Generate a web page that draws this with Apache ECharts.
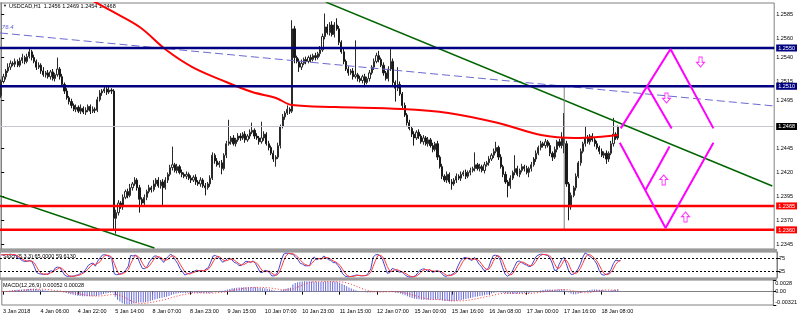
<!DOCTYPE html>
<html><head><meta charset="utf-8">
<script src="https://cdn.jsdelivr.net/npm/echarts@6/dist/echarts.min.js"></script>
<style>html,body{margin:0;padding:0;background:#fff}#c{width:800px;height:319px}</style>
</head><body><div id="c"></div>
<script>
// ---------------- data (prices in pips above BASE) ----------------
const BASE = 1.2300, PIP = 0.0001;
const symbolName = 'USDCAD,H1';
const timeLabels = ['3 Jan 2018','4 Jan 06:00','4 Jan 22:00','5 Jan 14:00','8 Jan 07:00','8 Jan 23:00','9 Jan 15:00','10 Jan 07:00','10 Jan 23:00','11 Jan 15:00','12 Jan 07:00','15 Jan 00:00','15 Jan 16:00','16 Jan 08:00','17 Jan 00:00','17 Jan 16:00','18 Jan 08:00'];
const barsPerLabel = 16;
const totalSlots = 330;
const firstOpenPips = 200;
const closePips = [
215,220,226,230,234,233,236,232,237,240,
236,241,246,240,236,230,232,226,222,224,
220,225,218,222,228,220,212,205,198,194,
190,186,188,184,187,183,185,189,184,186,
185,196,203,205,207,204,206,205,72,78,
88,84,94,100,96,104,108,112,104,92,
88,94,100,104,102,108,112,106,110,104,
112,118,125,128,122,126,120,118,116,118,
114,112,115,110,108,112,106,104,108,114,
138,132,128,130,124,138,150,152,156,150,
154,158,156,160,154,158,162,164,158,156,
152,156,160,150,146,140,134,136,148,168,
178,182,186,184,270,240,236,230,234,238,
236,240,238,242,240,244,248,262,272,266,
274,264,274,270,256,246,236,228,224,226,
220,222,218,216,220,214,218,224,230,236,
242,238,232,224,218,228,236,214,208,212,
202,190,180,172,166,160,156,162,158,152,
156,150,154,148,144,150,136,126,116,112,
118,110,108,112,116,114,118,120,116,120,
122,124,128,124,126,122,128,130,134,138,
142,146,136,126,118,110,106,114,120,124,
118,122,126,124,120,124,128,134,140,146,
150,148,152,148,140,136,144,152,148,156,
150,108,84,96,104,116,130,142,150,156,
152,158,154,150,146,142,138,140,134,140,
150,160,156,168];
const upperWickPips = [
2,3,2,4,3,2,3,2,3,4, 2,3,5,2,3,2,3,2,4,2, 3,2,3,2,12,2,3,2,3,2, 3,2,3,2,4,2,3,2,2,3,
2,3,3,2,3,2,4,2,2,3, 3,2,3,2,3,4,2,3,2,3, 2,3,2,3,2,4,2,3,2,3, 3,2,3,19,2,3,2,3,2,3,
2,3,2,3,2,3,2,3,2,3, 3,2,3,2,3,2,3,23,2,3, 2,3,3,2,3,2,3,8,2,3, 2,17,3,2,3,2,3,2,3,2,
3,2,4,2,9,3,2,3,4,2, 3,2,3,2,3,2,4,3,14,3, 3,4,3,7,3,2,3,2,3,2, 3,36,2,3,2,3,2,3,2,3,
3,5,2,3,2,3,15,3,2,18, 3,2,3,2,3,2,3,2,3,2, 3,2,3,2,3,2,3,2,3,2, 3,2,3,2,3,2,3,2,3,2,
3,2,13,2,3,2,3,2,3,2, 3,6,2,3,2,3,2,3,2,14, 3,2,3,2,3,2,3,2,3,2, 3,2,3,2,3,2,3,2,3,6,
26,3,2,3,2,3,2,3,2,12, 3,2,3,2,3,2,3,2,3,2, 3,17,2,1];
const lowerWickPips = [
2,2,3,2,3,2,3,2,2,3, 3,2,2,3,2,3,2,3,2,3, 2,3,2,3,2,3,2,3,2,3, 3,2,3,2,3,2,3,2,3,2,
3,2,2,3,2,3,2,3,12,16, 3,2,3,2,3,2,3,2,3,14, 3,2,3,2,3,2,3,2,3,18, 2,3,2,3,2,3,2,3,2,3,
2,3,2,3,2,3,2,8,2,3, 2,3,2,3,6,2,3,2,3,2, 3,2,3,2,3,2,3,2,3,2, 3,2,3,2,3,2,3,8,2,3,
2,3,2,3,2,6,2,5,3,2, 3,2,3,2,3,2,3,2,3,2, 3,2,3,2,3,2,3,2,3,2, 3,2,3,2,3,5,2,3,2,3,
2,3,2,3,2,3,2,3,14,3, 2,3,2,3,2,3,8,2,3,2, 3,2,3,2,3,2,3,2,3,2, 3,2,6,2,3,2,3,2,3,2,
3,2,3,2,3,2,3,2,3,2, 3,2,3,2,3,2,12,3,2,3, 2,3,2,3,2,5,3,2,3,2, 3,2,3,2,3,4,2,3,2,3,
10,3,14,3,2,3,2,3,2,3, 2,3,2,3,2,3,2,3,5,3, 2,3,2,2];
const priceTicks = [1.2585,1.2560,1.2540,1.2515,1.2495,1.2445,1.2420,1.2395,1.2370,1.2345];
const resistanceLevels = [1.2550, 1.2510];
const supportLevels = [1.2385, 1.2360];
const maPoints = [[38.6,1.2600],[46.2,1.25897],[59,1.25719],[70.4,1.25479],[81.5,1.25301],[95.9,1.25145],[107,1.2504],[117.1,1.24978],[123.9,1.24904],[142.6,1.24884],[170.7,1.24863],[190.6,1.24821],[211.9,1.24716],[230.1,1.24591],[244.6,1.2456],[254.3,1.2457],[262.9,1.24591]];
const channelUpper = [[138.4,1.2598],[328.7,1.24058]];
const channelLower = [[-0.5,1.23954],[65.3,1.2341]];
const fibLine = [[-0.5,1.25657],[329.5,1.24894]];
const fibText = '76.4';
const eventLine = [[240,1.2510],[240,1.2360]];
const projUpperA = [[264.1,1.2466],[285.3,1.2549],[303.6,1.2466]];
const projUpperB = [[275.6,1.2509],[285.8,1.2466]];
const projLowerA = [[263.7,1.2451],[283.2,1.2362],[303.6,1.2451]];
const projLowerB = [[274.7,1.2402],[284.9,1.2447]];
const arrowsDown = [[298.1,1.25354],[283.6,1.24978]];
const arrowsUp = [[282.4,1.24121],[291.7,1.23734]];
const stochTicks = [100,75,25,0];
const stochLevels = [75,25];
const macdRange = [-0.00321, 0.0028];
const stochTitle = 'Stoch(5,3,3) 65.0000 59.6130';
const macdTitle = 'MACD(12,26,9) 0.00052 0.00028';

// ---------------- build OHLC ----------------
const toPrice = p => Math.round((BASE + p*PIP)*1e5)/1e5;
const N = closePips.length;
const O=[],C=[],H=[],L=[];
let prev = firstOpenPips;
for (let i=0;i<N;i++){
  const o=prev, c=closePips[i];
  O.push(toPrice(o)); C.push(toPrice(c));
  H.push(toPrice(Math.max(o,c)+upperWickPips[i]));
  L.push(toPrice(Math.min(o,c)-lowerWickPips[i]));
  prev=c;
}
const candles = O.map((o,i)=>[o,C[i],L[i],H[i]]);
const lastClose = C[N-1];

// Stochastic(5,3,3)
const num=[],den=[],K=[],D=[];
for (let i=0;i<N;i++){
  const s=Math.max(0,i-4);
  const hh=Math.max(...H.slice(s,i+1)), ll=Math.min(...L.slice(s,i+1));
  num.push(C[i]-ll); den.push(hh-ll);
}
for (let i=0;i<N;i++){
  const s=Math.max(0,i-2);
  let a=0,b=0; for(let j=s;j<=i;j++){a+=num[j];b+=den[j];}
  K.push(b>0?100*a/b:50);
}
for (let i=0;i<N;i++){
  const s=Math.max(0,i-2); let a=0; for(let j=s;j<=i;j++)a+=K[j]; D.push(a/(i-s+1));
}
// MACD(12,26,9)
let e12=C[0], e26=C[0]; const M=[],S=[];
for (let i=0;i<N;i++){ e12+= (2/13)*(C[i]-e12); e26 += (2/27)*(C[i]-e26); M.push(e12-e26); }
for (let i=0;i<N;i++){ const s=Math.max(0,i-8); let a=0; for(let j=s;j<=i;j++)a+=M[j]; S.push(a/(i-s+1)); }

const categories = Array.from({length: totalSlots}, (_, i) => String(i));
const isLabelIdx = idx => idx % barsPerLabel === 0 && idx / barsPerLabel < timeLabels.length;

const FONT = '"Liberation Sans", Arial, sans-serif';
const FS = 5.5;
const near = (a,b)=>Math.abs(a-b)<1e-7;

function seg(data, color, width, type, z){
  return {type:'line', xAxisIndex:1, yAxisIndex:0, data, symbol:'none', silent:true, z:z||3,
    lineStyle:{color, width, type:type||'solid'}, clip:true};
}

const series = [
  {type:'candlestick', xAxisIndex:0, yAxisIndex:0, data:candles, barWidth:'72%',
   itemStyle:{color:'#ffffff', color0:'#1a1a1a', borderColor:'#2a2a2a', borderColor0:'#1a1a1a', borderWidth:1}, z:2},
  seg([[-0.5,lastClose],[totalSlots-0.5,lastClose]], '#c4c8cc', 1),
  {type:'line', xAxisIndex:1, yAxisIndex:0, data:maPoints, smooth:0.35, symbol:'none', lineStyle:{color:'#ff0000', width:2}, z:4},
  seg(fibLine, '#6a6ad0', 1, [8,4]),
  seg(channelUpper, '#006400', 1.5),
  seg(channelLower, '#006400', 1.5),
  seg(eventLine, '#808080', 1),
  ...resistanceLevels.map(v=>seg([[-0.5,v],[totalSlots-0.5,v]], '#000080', 2.5, 'solid', 5)),
  ...supportLevels.map(v=>seg([[-0.5,v],[totalSlots-0.5,v]], '#ff0000', 2.5, 'solid', 5)),
  ...[projUpperA, projUpperB, projLowerA, projLowerB].map(d=>seg(d, '#ff00ff', 2, 'solid', 6)),
  {type:'scatter', xAxisIndex:1, yAxisIndex:0, data:arrowsDown, symbol:'path://M3,0L7,0L7,6L10,6L5,11L0,6L3,6Z', symbolSize:[8,10],
   itemStyle:{color:'#ffffff', borderColor:'#ff00ff', borderWidth:1}, z:7, silent:true},
  {type:'scatter', xAxisIndex:1, yAxisIndex:0, data:arrowsUp, symbol:'path://M5,0L10,5L7,5L7,11L3,11L3,5L0,5Z', symbolSize:[8,10],
   itemStyle:{color:'#ffffff', borderColor:'#ff00ff', borderWidth:1}, z:7, silent:true},
  {type:'scatter', xAxisIndex:1, yAxisIndex:0, data:[[fibLine[0][0]+1, fibLine[0][1]]], symbolSize:1, itemStyle:{color:'rgba(0,0,0,0)'},
   label:{show:true, formatter:fibText, position:[0,-8], color:'#3333cc', fontStyle:'italic', fontSize:6, fontFamily:FONT}, z:7, silent:true},
  {type:'line', xAxisIndex:2, yAxisIndex:1, data:K, symbol:'none', lineStyle:{color:'#4646d2', width:1}, z:3,
   markLine:{silent:true, symbol:'none', label:{show:false}, lineStyle:{color:'#000', width:1, type:[2,2]}, data:stochLevels.map(v=>({yAxis:v}))}},
  {type:'line', xAxisIndex:2, yAxisIndex:1, data:D, symbol:'none', lineStyle:{color:'#ff3c3c', width:1}, z:4},
  {type:'bar', xAxisIndex:3, yAxisIndex:2, data:M, barWidth:1, itemStyle:{color:'#6a6ad8'}, z:3},
  {type:'line', xAxisIndex:3, yAxisIndex:2, data:S, symbol:'none', lineStyle:{color:'#ff3030', width:1, type:[1,2]}, z:4}
];

const hiddenCat = g => ({type:'category', gridIndex:g, data:categories, boundaryGap:true, show:false});
const edgeRich = {t:{padding:[6,0,0,0], fontSize:FS}, b:{padding:[0,0,6,0], fontSize:FS}};
const option = {
  animation:false,
  backgroundColor:'#ffffff',
  textStyle:{fontFamily:FONT},
  grid:[
    {left:0, right:23, top:3, height:246, show:true, borderColor:'#808080', borderWidth:1},
    {left:0, right:23, top:252, height:26, show:true, borderColor:'#808080', borderWidth:1},
    {left:0, right:23, top:280, height:25, show:true, borderColor:'#808080', borderWidth:1}
  ],
  xAxis:[
    hiddenCat(0),
    {type:'value', gridIndex:0, min:-0.5, max:totalSlots-0.5, show:false},
    hiddenCat(1),
    {type:'category', gridIndex:2, data:categories, boundaryGap:true,
     axisLine:{show:true, lineStyle:{color:'#808080'}},
     axisTick:{show:true, interval:isLabelIdx, alignWithLabel:true, length:3, lineStyle:{color:'#000'}},
     axisLabel:{interval:isLabelIdx, formatter:(v,idx)=>timeLabels[idx/barsPerLabel]||'', align:'left', fontSize:FS, color:'#000', margin:3, hideOverlap:false}}
  ],
  yAxis:[
    {type:'value', gridIndex:0, position:'right', min:1.2340, max:1.2597,
     axisLine:{show:true, lineStyle:{color:'#808080'}}, splitLine:{show:false},
     axisTick:{show:true, customValues:priceTicks, length:3, lineStyle:{color:'#000'}},
     axisLabel:{customValues:priceTicks.concat(resistanceLevels, supportLevels, [lastClose]), margin:2, fontSize:FS, color:'#000', hideOverlap:false,
       formatter:v=>{const s=v.toFixed(4);
         if(resistanceLevels.some(x=>near(x,v)))return '{r|'+s+'}';
         if(supportLevels.some(x=>near(x,v)))return '{s|'+s+'}';
         if(near(v,lastClose))return '{c|'+s+'}';
         return s;},
       rich:{r:{backgroundColor:'#000080',color:'#fff',fontSize:FS,padding:[1,2,0,2]},
             s:{backgroundColor:'#ff0000',color:'#fff',fontSize:FS,padding:[1,2,0,2]},
             c:{backgroundColor:'#000000',color:'#fff',fontSize:FS,padding:[1,2,0,2]}}}},
    {type:'value', gridIndex:1, position:'right', min:0, max:100,
     axisLine:{show:true, lineStyle:{color:'#808080'}}, splitLine:{show:false},
     axisTick:{show:true, customValues:stochTicks, length:3, lineStyle:{color:'#000'}},
     axisLabel:{customValues:stochTicks, margin:2, fontSize:FS, color:'#000', hideOverlap:false,
       formatter:v=>v===100?'{t|100}':(v===0?'{b|0}':String(v)), rich:edgeRich}},
    {type:'value', gridIndex:2, position:'right', min:macdRange[0], max:macdRange[1],
     axisLine:{show:true, lineStyle:{color:'#808080'}}, splitLine:{show:false},
     axisTick:{show:true, customValues:[macdRange[1],0,macdRange[0]], length:3, lineStyle:{color:'#000'}},
     axisLabel:{customValues:[macdRange[1],0,macdRange[0]], margin:2, fontSize:FS, color:'#000', hideOverlap:false,
       formatter:v=>v===0?'0.00':(v>0?'{t|'+v+'}':'{b|'+v+'}'), rich:edgeRich}}
  ],
  graphic:[
    {type:'rect', shape:{x:0,y:249,width:777,height:3}, style:{fill:'#9a9a9a'}, silent:true},
    {type:'rect', shape:{x:0,y:278,width:777,height:2}, style:{fill:'#9a9a9a'}, silent:true},
    {type:'text', x:3, y:4, style:{text:'▼', fontSize:4, fill:'#000'}, silent:true},
    {type:'text', x:9, y:3, style:{text:symbolName+'  '+[O[N-1],H[N-1],L[N-1],C[N-1]].map(v=>v.toFixed(4)).join(' '), fontSize:FS, fontFamily:FONT, fill:'#000'}, silent:true},
    {type:'text', x:3, y:253, style:{text:stochTitle, fontSize:FS, fontFamily:FONT, fill:'#000'}, silent:true},
    {type:'text', x:3, y:282, style:{text:macdTitle, fontSize:FS, fontFamily:FONT, fill:'#000'}, silent:true}
  ],
  series
};
const chart = echarts.init(document.getElementById('c'));
chart.setOption(option);
</script></body></html>
